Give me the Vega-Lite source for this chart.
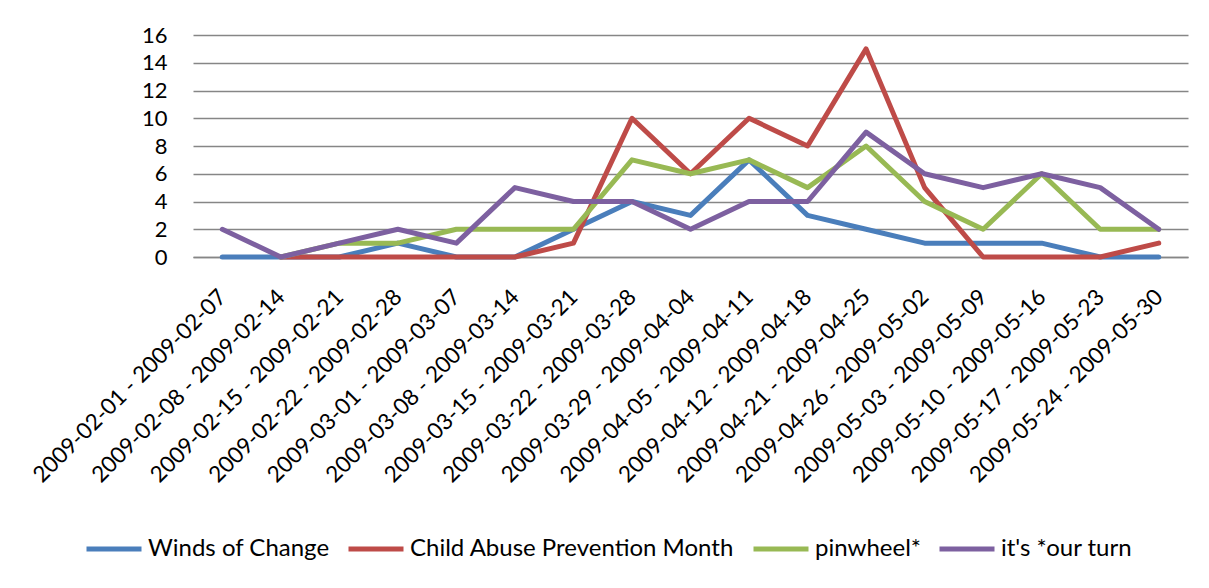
{
  "$schema": "https://vega.github.io/schema/vega-lite/v6.json",
  "width": 995,
  "height": 222,
  "autosize": {"type": "none"},
  "padding": {"left": 193, "top": 35, "right": 21, "bottom": 331},
  "background": "#ffffff",
  "data": {
    "values": [
      {"week": "2009-02-01 - 2009-02-07", "series": "Winds of Change", "count": 0},
      {"week": "2009-02-08 - 2009-02-14", "series": "Winds of Change", "count": 0},
      {"week": "2009-02-15 - 2009-02-21", "series": "Winds of Change", "count": 0},
      {"week": "2009-02-22 - 2009-02-28", "series": "Winds of Change", "count": 1},
      {"week": "2009-03-01 - 2009-03-07", "series": "Winds of Change", "count": 0},
      {"week": "2009-03-08 - 2009-03-14", "series": "Winds of Change", "count": 0},
      {"week": "2009-03-15 - 2009-03-21", "series": "Winds of Change", "count": 2},
      {"week": "2009-03-22 - 2009-03-28", "series": "Winds of Change", "count": 4},
      {"week": "2009-03-29 - 2009-04-04", "series": "Winds of Change", "count": 3},
      {"week": "2009-04-05 - 2009-04-11", "series": "Winds of Change", "count": 7},
      {"week": "2009-04-12 - 2009-04-18", "series": "Winds of Change", "count": 3},
      {"week": "2009-04-21 - 2009-04-25", "series": "Winds of Change", "count": 2},
      {"week": "2009-04-26 - 2009-05-02", "series": "Winds of Change", "count": 1},
      {"week": "2009-05-03 - 2009-05-09", "series": "Winds of Change", "count": 1},
      {"week": "2009-05-10 - 2009-05-16", "series": "Winds of Change", "count": 1},
      {"week": "2009-05-17 - 2009-05-23", "series": "Winds of Change", "count": 0},
      {"week": "2009-05-24 - 2009-05-30", "series": "Winds of Change", "count": 0},

      {"week": "2009-02-08 - 2009-02-14", "series": "Child Abuse Prevention Month", "count": 0},
      {"week": "2009-02-15 - 2009-02-21", "series": "Child Abuse Prevention Month", "count": 0},
      {"week": "2009-02-22 - 2009-02-28", "series": "Child Abuse Prevention Month", "count": 0},
      {"week": "2009-03-01 - 2009-03-07", "series": "Child Abuse Prevention Month", "count": 0},
      {"week": "2009-03-08 - 2009-03-14", "series": "Child Abuse Prevention Month", "count": 0},
      {"week": "2009-03-15 - 2009-03-21", "series": "Child Abuse Prevention Month", "count": 1},
      {"week": "2009-03-22 - 2009-03-28", "series": "Child Abuse Prevention Month", "count": 10},
      {"week": "2009-03-29 - 2009-04-04", "series": "Child Abuse Prevention Month", "count": 6},
      {"week": "2009-04-05 - 2009-04-11", "series": "Child Abuse Prevention Month", "count": 10},
      {"week": "2009-04-12 - 2009-04-18", "series": "Child Abuse Prevention Month", "count": 8},
      {"week": "2009-04-21 - 2009-04-25", "series": "Child Abuse Prevention Month", "count": 15},
      {"week": "2009-04-26 - 2009-05-02", "series": "Child Abuse Prevention Month", "count": 5},
      {"week": "2009-05-03 - 2009-05-09", "series": "Child Abuse Prevention Month", "count": 0},
      {"week": "2009-05-10 - 2009-05-16", "series": "Child Abuse Prevention Month", "count": 0},
      {"week": "2009-05-17 - 2009-05-23", "series": "Child Abuse Prevention Month", "count": 0},
      {"week": "2009-05-24 - 2009-05-30", "series": "Child Abuse Prevention Month", "count": 1},

      {"week": "2009-02-08 - 2009-02-14", "series": "pinwheel*", "count": 0},
      {"week": "2009-02-15 - 2009-02-21", "series": "pinwheel*", "count": 1},
      {"week": "2009-02-22 - 2009-02-28", "series": "pinwheel*", "count": 1},
      {"week": "2009-03-01 - 2009-03-07", "series": "pinwheel*", "count": 2},
      {"week": "2009-03-08 - 2009-03-14", "series": "pinwheel*", "count": 2},
      {"week": "2009-03-15 - 2009-03-21", "series": "pinwheel*", "count": 2},
      {"week": "2009-03-22 - 2009-03-28", "series": "pinwheel*", "count": 7},
      {"week": "2009-03-29 - 2009-04-04", "series": "pinwheel*", "count": 6},
      {"week": "2009-04-05 - 2009-04-11", "series": "pinwheel*", "count": 7},
      {"week": "2009-04-12 - 2009-04-18", "series": "pinwheel*", "count": 5},
      {"week": "2009-04-21 - 2009-04-25", "series": "pinwheel*", "count": 8},
      {"week": "2009-04-26 - 2009-05-02", "series": "pinwheel*", "count": 4},
      {"week": "2009-05-03 - 2009-05-09", "series": "pinwheel*", "count": 2},
      {"week": "2009-05-10 - 2009-05-16", "series": "pinwheel*", "count": 6},
      {"week": "2009-05-17 - 2009-05-23", "series": "pinwheel*", "count": 2},
      {"week": "2009-05-24 - 2009-05-30", "series": "pinwheel*", "count": 2},

      {"week": "2009-02-01 - 2009-02-07", "series": "it's *our turn", "count": 2},
      {"week": "2009-02-08 - 2009-02-14", "series": "it's *our turn", "count": 0},
      {"week": "2009-02-15 - 2009-02-21", "series": "it's *our turn", "count": 1},
      {"week": "2009-02-22 - 2009-02-28", "series": "it's *our turn", "count": 2},
      {"week": "2009-03-01 - 2009-03-07", "series": "it's *our turn", "count": 1},
      {"week": "2009-03-08 - 2009-03-14", "series": "it's *our turn", "count": 5},
      {"week": "2009-03-15 - 2009-03-21", "series": "it's *our turn", "count": 4},
      {"week": "2009-03-22 - 2009-03-28", "series": "it's *our turn", "count": 4},
      {"week": "2009-03-29 - 2009-04-04", "series": "it's *our turn", "count": 2},
      {"week": "2009-04-05 - 2009-04-11", "series": "it's *our turn", "count": 4},
      {"week": "2009-04-12 - 2009-04-18", "series": "it's *our turn", "count": 4},
      {"week": "2009-04-21 - 2009-04-25", "series": "it's *our turn", "count": 9},
      {"week": "2009-04-26 - 2009-05-02", "series": "it's *our turn", "count": 6},
      {"week": "2009-05-03 - 2009-05-09", "series": "it's *our turn", "count": 5},
      {"week": "2009-05-10 - 2009-05-16", "series": "it's *our turn", "count": 6},
      {"week": "2009-05-17 - 2009-05-23", "series": "it's *our turn", "count": 5},
      {"week": "2009-05-24 - 2009-05-30", "series": "it's *our turn", "count": 2}
    ]
  },
  "mark": {"type": "line", "strokeWidth": 5, "strokeJoin": "round", "strokeCap": "round"},
  "encoding": {
    "x": {
      "field": "week",
      "type": "nominal",
      "sort": null,
      "scale": {"type": "point", "padding": 0.5},
      "axis": {
        "title": null,
        "labelAngle": -45,
        "labelAlign": "right",
        "labelBaseline": "middle",
        "labelPadding": 36,
        "labelFont": "Lato",
        "labelFontSize": 22.5,
        "labelColor": "#000000",
        "labelLimit": 400,
        "labelOverlap": false,
        "ticks": false,
        "domain": true,
        "domainColor": "#868686",
        "domainWidth": 1.5,
        "grid": false
      }
    },
    "y": {
      "field": "count",
      "type": "quantitative",
      "scale": {"domain": [0, 16], "nice": false},
      "axis": {
        "title": null,
        "values": [0, 2, 4, 6, 8, 10, 12, 14, 16],
        "labelFont": "Lato",
        "labelFontSize": 22,
        "labelColor": "#000000",
        "labelPadding": 26,
        "ticks": false,
        "domain": false,
        "grid": true,
        "gridColor": "#868686",
        "gridWidth": 1.5
      }
    },
    "color": {
      "field": "series",
      "type": "nominal",
      "sort": null,
      "scale": {
        "domain": ["Winds of Change", "Child Abuse Prevention Month", "pinwheel*", "it's *our turn"],
        "range": ["#4a7ebb", "#be4b48", "#98b954", "#7d60a0"]
      },
      "legend": {
        "title": null,
        "orient": "none",
        "direction": "horizontal",
        "legendX": -109,
        "legendY": 484,
        "symbolType": "stroke",
        "symbolSize": 3025,
        "symbolStrokeWidth": 5,
        "labelFont": "Lato",
        "labelFontSize": 24,
        "labelColor": "#000000",
        "labelOffset": 4,
        "columnPadding": 8,
        "labelLimit": 500
      }
    }
  },
  "config": {
    "view": {"stroke": null}
  }
}
